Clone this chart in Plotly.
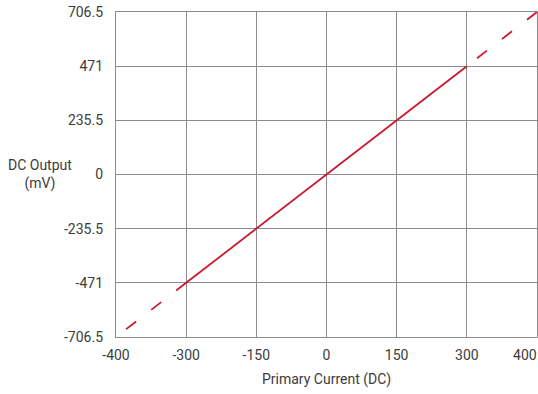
import plotly.graph_objects as go

# Data
x_ticks = ["-400", "-300", "-150", "0", "150", "300", "400"]
x_tick_labels = ["-400", "-300", "-150", "0", "150", "300", "400" + "&nbsp;" * 7]
y_ticks = [-706.5, -471, -235.5, 0, 235.5, 471, 706.5]
y_tick_labels = ["-706.5", "-471", "-235.5", "0", "235.5", "471", "706.5"]

solid_x = ["-300", "-150", "0", "150", "300"]
solid_y = [-471, -235.5, 0, 235.5, 471]
dash_low_x = ["-300", "-400"]
dash_low_y = [-471, -706.5]
dash_high_x = ["400", "300"]
dash_high_y = [706.5, 471]

RED = "#c8192e"
GRID = "#8c8c8c"
TXT = "#3c3c3c"

fig = go.Figure()
fig.add_trace(go.Scatter(x=solid_x, y=solid_y, mode="lines",
                         line=dict(color=RED, width=1.8), showlegend=False))
fig.add_trace(go.Scatter(x=dash_low_x, y=dash_low_y, mode="lines",
                         line=dict(color=RED, width=1.8, dash="12.6px,19px"), showlegend=False))
fig.add_trace(go.Scatter(x=dash_high_x, y=dash_high_y, mode="lines",
                         line=dict(color=RED, width=1.8, dash="12.6px,19px"), showlegend=False))

L, R, T, B = 116, 1, 12, 57
W, H = 538, 394
pw, ph = W - L - R, H - T - B

fig.update_layout(
    width=W, height=H,
    margin=dict(l=L, r=R, t=T, b=B),
    paper_bgcolor="white", plot_bgcolor="white",
    font=dict(family="Roboto", size=14, color=TXT),
    xaxis=dict(type="category", categoryorder="array", categoryarray=x_ticks,
               tickmode="array", tickvals=x_ticks, ticktext=x_tick_labels,
               range=[0, 6], showgrid=True, gridcolor=GRID, gridwidth=1.3,
               showline=True, linecolor=GRID, linewidth=1.3, mirror=True,
               ticks="", ticklabelstandoff=5, zeroline=False, automargin=False,
               title=dict(text="Primary Current (DC)", font=dict(size=14, color=TXT), standoff=12)),
    yaxis=dict(range=[-706.5, 706.5], tickvals=y_ticks, ticktext=y_tick_labels,
               showgrid=True, gridcolor=GRID, gridwidth=1.3,
               showline=True, linecolor=GRID, linewidth=1.3, mirror=True,
               zeroline=False, ticks="", ticklabelstandoff=9, automargin=False),
    annotations=[dict(text="DC Output<br>(mV)", x=(40 - L) / pw, y=(H - B - 175) / ph,
                      xref="paper", yref="paper", xanchor="center", yanchor="middle",
                      showarrow=False, font=dict(size=14, color=TXT))],
)

fig.write_html("out.html", config={"displayModeBar": False},
               post_script="document.body.style.margin='0px';")
